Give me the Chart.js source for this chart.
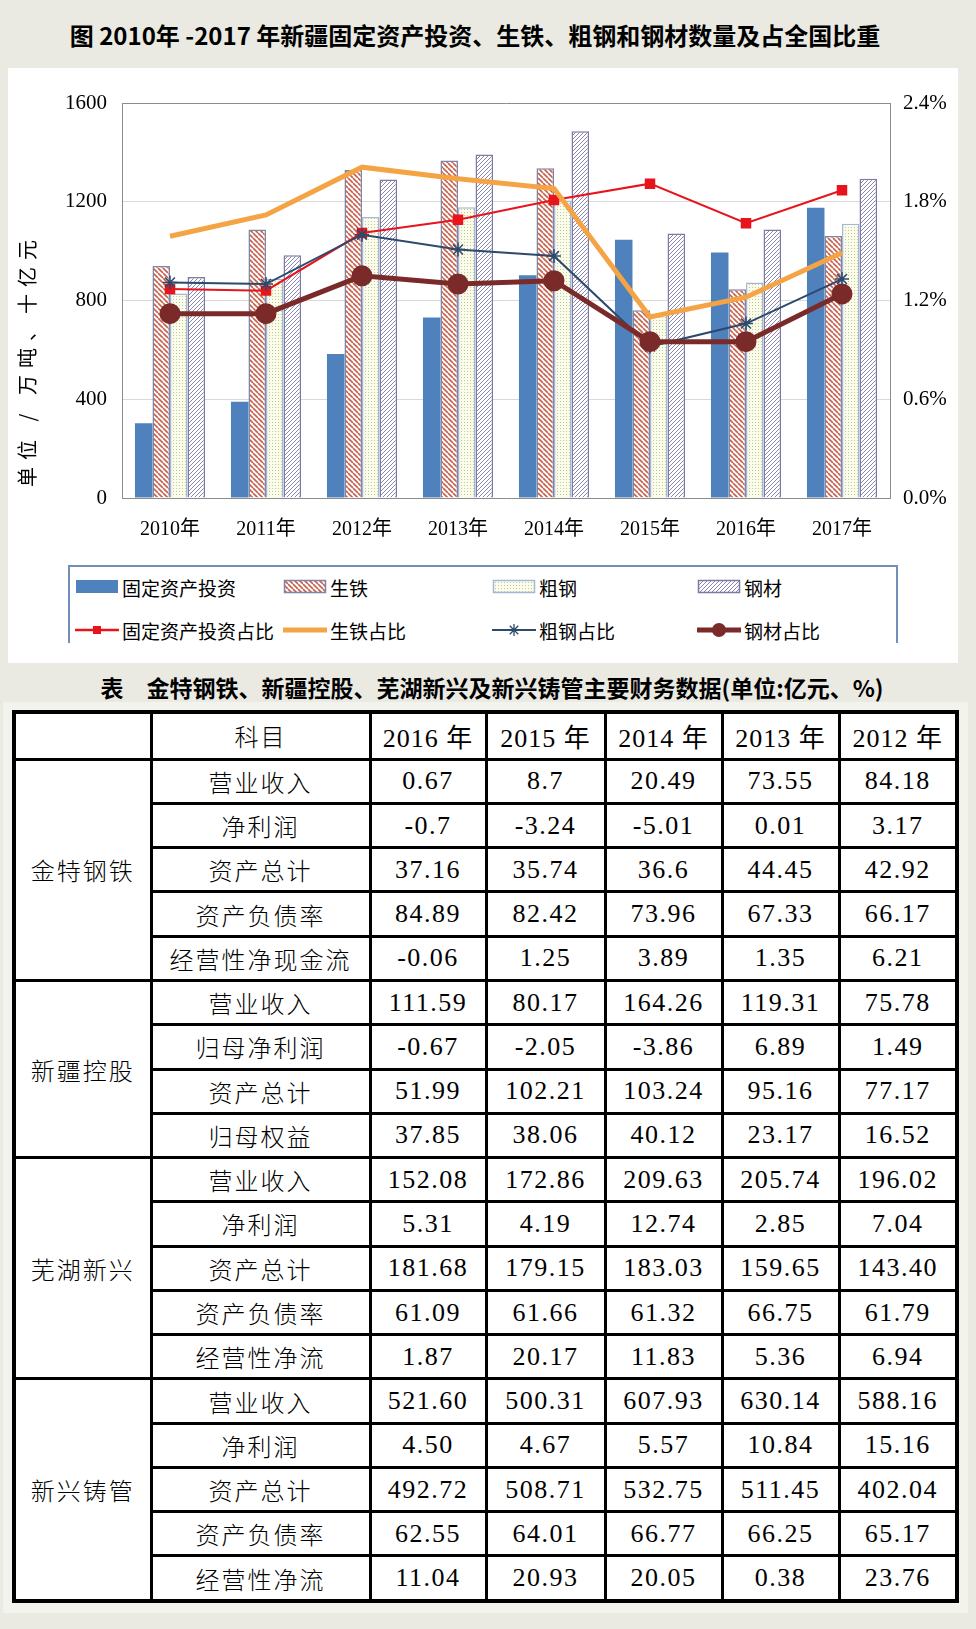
<!DOCTYPE html>
<html><head><meta charset="utf-8">
<script src="https://cdn.jsdelivr.net/npm/chart.js@4.4.0/dist/chart.umd.min.js"></script>
<style>
body{margin:0;width:976px;height:1629px;background:#EAEAE2;position:relative;overflow:hidden;font-family:'Noto Sans CJK SC',sans-serif;color:#000;}
#title{position:absolute;left:0;top:15px;width:950px;text-align:center;font-size:24px;font-weight:bold;line-height:40px;}
#panel{position:absolute;left:8px;top:68px;width:950px;height:595px;background:#fff;}
#chartBox{position:absolute;left:8px;top:68px;width:950px;height:492px;}
#ytitle{position:absolute;left:-123px;top:347px;width:300px;height:26px;line-height:26px;text-align:center;font-size:20px;letter-spacing:7px;transform:rotate(-90deg);white-space:pre;}
#legend{position:absolute;left:68px;top:565px;width:826px;height:76px;border:2px solid #7090B8;border-bottom:none;overflow:hidden;background:#fff;}
.li{position:absolute;height:24px;display:flex;align-items:center;white-space:nowrap;font-size:19px;}
.li canvas{margin-right:3px;}
#ttitle{position:absolute;left:0;top:668px;width:984px;text-align:center;font-size:23px;font-weight:bold;line-height:38px;white-space:pre;}
#tpanel{position:absolute;left:3px;top:702px;width:965px;height:911px;background:#F3F3EE;}
table{position:absolute;left:12px;top:710px;width:943px;height:893px;border-collapse:collapse;table-layout:fixed;background:#fff;border:4px solid #000;}
td{border:3px solid #000;text-align:center;vertical-align:middle;padding:0;font-size:24px;letter-spacing:2px;font-weight:300;}
td.n{font-family:'Liberation Serif',serif;font-size:26px;letter-spacing:1.5px;font-weight:400;}
td.h{font-family:'Liberation Serif','Noto Sans CJK SC',serif;font-size:26px;letter-spacing:1px;font-weight:400;}
</style></head>
<body>
<div id="title">图 2010年 -2017 年新疆固定资产投资、生铁、粗钢和钢材数量及占全国比重</div>
<div id="panel"></div>
<div id="chartBox"><canvas id="c"></canvas></div>
<div id="ytitle">单位 / 万吨、十亿元</div>
<div id="legend"></div>
<div id="ttitle">表　金特钢铁、新疆控股、芜湖新兴及新兴铸管主要财务数据(单位:亿元、%)</div>
<div id="tpanel"></div>
<table id="tbl"></table>
<script>
// ---------- chart data ----------
const categories = ['2010年','2011年','2012年','2013年','2014年','2015年','2016年','2017年'];
const fixedInvest   = [303, 390, 583, 731, 902, 1046, 994, 1176];
const pigIron       = [940, 1088, 1329, 1367, 1336, 761, 846, 1061];
const crudeSteel    = [828, 888, 1138, 1178, 1205, 745, 873, 1111];
const steelProducts = [895, 983, 1290, 1391, 1486, 1071, 1088, 1293];
const fixedInvestShare   = [1.27, 1.26, 1.61, 1.69, 1.81, 1.91, 1.67, 1.87];
const pigIronShare       = [1.59, 1.72, 2.01, 1.94, 1.88, 1.10, 1.22, 1.49];
const crudeSteelShare    = [1.31, 1.30, 1.60, 1.51, 1.47, 0.92, 1.06, 1.33];
const steelProductsShare = [1.12, 1.12, 1.35, 1.30, 1.32, 0.95, 0.95, 1.24];
const leftTicks = [0, 400, 800, 1200, 1600];
const rightTicks = ['0.0%','0.6%','1.2%','1.8%','2.4%'];
const seriesNames = ['固定资产投资','生铁','粗钢','钢材','固定资产投资占比','生铁占比','粗钢占比','钢材占比'];

// ---------- table data ----------
const tableYears = ['2016 年','2015 年','2014 年','2013 年','2012 年'];
const companies = ['金特钢铁','新疆控股','芜湖新兴','新兴铸管'];
const jtItems = ['营业收入','净利润','资产总计','资产负债率','经营性净现金流'];
const jtValues = [['0.67','8.7','20.49','73.55','84.18'],['-0.7','-3.24','-5.01','0.01','3.17'],['37.16','35.74','36.6','44.45','42.92'],['84.89','82.42','73.96','67.33','66.17'],['-0.06','1.25','3.89','1.35','6.21']];
const xjItems = ['营业收入','归母净利润','资产总计','归母权益'];
const xjValues = [['111.59','80.17','164.26','119.31','75.78'],['-0.67','-2.05','-3.86','6.89','1.49'],['51.99','102.21','103.24','95.16','77.17'],['37.85','38.06','40.12','23.17','16.52']];
const whItems = ['营业收入','净利润','资产总计','资产负债率','经营性净流'];
const whValues = [['152.08','172.86','209.63','205.74','196.02'],['5.31','4.19','12.74','2.85','7.04'],['181.68','179.15','183.03','159.65','143.40'],['61.09','61.66','61.32','66.75','61.79'],['1.87','20.17','11.83','5.36','6.94']];
const xxItems = ['营业收入','净利润','资产总计','资产负债率','经营性净流'];
const xxValues = [['521.60','500.31','607.93','630.14','588.16'],['4.50','4.67','5.57','10.84','15.16'],['492.72','508.71','532.75','511.45','402.04'],['62.55','64.01','66.77','66.25','65.17'],['11.04','20.93','20.05','0.38','23.76']];

// ---------- patterns ----------
function hatch(bg, fg, size, dir, lw){
  const c=document.createElement('canvas'); c.width=c.height=size;
  const x=c.getContext('2d'); x.fillStyle=bg; x.fillRect(0,0,size,size);
  x.strokeStyle=fg; x.lineWidth=lw; x.beginPath();
  for(const k of [-1,0,1]){
    if(dir==='back'){x.moveTo(k*size,0);x.lineTo(k*size+size,size);}
    else {x.moveTo(k*size,size);x.lineTo(k*size+size,0);}
  }
  x.stroke();
  return x.createPattern(c,'repeat');
}
function dots(bg, fg){
  const c=document.createElement('canvas'); c.width=c.height=3;
  const x=c.getContext('2d'); x.fillStyle=bg; x.fillRect(0,0,3,3);
  x.fillStyle=fg; x.fillRect(0,0,1,1);
  return x.createPattern(c,'repeat');
}
const colBlue='#4F81BD';
const patIron=hatch('#ffffff','#C8604C',5,'back',1.6);
const patCrude=dots('#FCFCEC','#BCCB98');
const patSteel=hatch('#ffffff','#8A86B2',4,'fwd',1);
const bIron='#7C86A6', bCrude='#A2B8D4', bSteel='#7E7AA0';
const cRed='#E8141C', cOrange='#F5A445', cSlate='#2C4A6C', cDark='#7B2A2A';

const tickFont={family:"'Liberation Serif','Noto Sans CJK SC',serif", size:21};
new Chart(document.getElementById('c'),{
  data:{labels:categories,datasets:[
    {type:'bar',label:seriesNames[0],data:fixedInvest,backgroundColor:colBlue,borderWidth:0,yAxisID:'y',order:10},
    {type:'bar',label:seriesNames[1],data:pigIron,backgroundColor:patIron,borderColor:bIron,borderWidth:1.5,yAxisID:'y',order:10},
    {type:'bar',label:seriesNames[2],data:crudeSteel,backgroundColor:patCrude,borderColor:bCrude,borderWidth:1.5,yAxisID:'y',order:10},
    {type:'bar',label:seriesNames[3],data:steelProducts,backgroundColor:patSteel,borderColor:bSteel,borderWidth:1.5,yAxisID:'y',order:10},
    {type:'line',label:seriesNames[4],data:fixedInvestShare,borderColor:cRed,backgroundColor:cRed,borderWidth:2,pointStyle:'rect',pointRadius:6,yAxisID:'y1',order:4},
    {type:'line',label:seriesNames[5],data:pigIronShare,borderColor:cOrange,backgroundColor:cOrange,borderWidth:5,pointRadius:0,yAxisID:'y1',order:3},
    {type:'line',label:seriesNames[6],data:crudeSteelShare,borderColor:cSlate,backgroundColor:cSlate,borderWidth:2,pointStyle:'star',pointRadius:7,pointBorderWidth:1.5,yAxisID:'y1',order:2},
    {type:'line',label:seriesNames[7],data:steelProductsShare,borderColor:cDark,backgroundColor:cDark,borderWidth:5,pointStyle:'circle',pointRadius:8,yAxisID:'y1',order:1}
  ]},
  options:{
    responsive:true,maintainAspectRatio:false,animation:false,
    layout:{padding:{top:35,left:0,right:0,bottom:0}},
    plugins:{legend:{display:false},tooltip:{enabled:false}},
    datasets:{bar:{categoryPercentage:0.73,barPercentage:1.0},line:{tension:0}},
    scales:{
      x:{grid:{display:false,drawTicks:false},border:{display:true,color:'#8C8C8C',width:1},
         ticks:{font:{...tickFont,size:20},color:'#000',padding:20},afterFit(s){s.height=62;}},
      y:{position:'left',min:leftTicks[0],max:leftTicks[leftTicks.length-1],
         afterBuildTicks(s){s.ticks=leftTicks.map(v=>({value:v}));},
         ticks:{font:tickFont,color:'#000',padding:15,callback:(v)=>String(v)},
         grid:{drawTicks:false,color:c=>c.tick&&c.tick.value===1600?'#8C8C8C':'#D9D9D9',lineWidth:1},
         border:{display:true,color:'#8C8C8C'},afterFit(s){s.width=114;}},
      y1:{position:'right',min:0,max:2.4,
         afterBuildTicks(s){s.ticks=rightTicks.map(t=>({value:parseFloat(t)}));},
         ticks:{font:tickFont,color:'#000',padding:13,callback:(v,i)=>rightTicks[i]},
         grid:{display:false,drawTicks:false},border:{display:true,color:'#8C8C8C'},afterFit(s){s.width=68;}}
    }
  }
});

// ---------- legend ----------
const legend=document.getElementById('legend');
const legX=[75,283,492,697], legY=[587,630];
function swatch(i){
  const c=document.createElement('canvas'); c.width=44; c.height=16;
  const x=c.getContext('2d');
  if(i<4){
    const fills=[colBlue,patIron,patCrude,patSteel], bords=[null,bIron,bCrude,bSteel];
    x.fillStyle=fills[i]; x.fillRect(1,1,42,13);
    if(bords[i]){x.strokeStyle=bords[i];x.lineWidth=1.5;x.strokeRect(1.5,1.5,41,12);}
  } else {
    const cols=[cRed,cOrange,cSlate,cDark], w=[2.5,5,2,5];
    x.strokeStyle=cols[i-4]; x.lineWidth=w[i-4];
    x.beginPath(); x.moveTo(0,8); x.lineTo(44,8); x.stroke();
    x.fillStyle=cols[i-4];
    if(i===4){x.fillRect(18,4,8,8);}
    if(i===6){x.lineWidth=1.3;x.beginPath();
      for(const a of [0,45,90,135]){const r=a*Math.PI/180;x.moveTo(22-6*Math.cos(r),8-6*Math.sin(r));x.lineTo(22+6*Math.cos(r),8+6*Math.sin(r));}
      x.stroke();}
    if(i===7){x.beginPath();x.arc(22,8,7,0,Math.PI*2);x.fill();}
  }
  return c;
}
seriesNames.forEach((n,i)=>{
  const d=document.createElement('div'); d.className='li';
  d.style.left=(legX[i%4]-68-2)+'px'; d.style.top=(legY[Math.floor(i/4)]-565-2-12)+'px';
  d.appendChild(swatch(i));
  const s=document.createElement('span'); s.textContent=n; d.appendChild(s);
  legend.appendChild(d);
});

// ---------- table ----------
const tbl=document.getElementById('tbl');
const widths=[137,219,116,119,117,117,118];
let html='<colgroup>'+widths.map(w=>'<col style="width:'+w+'px">').join('')+'</colgroup>';
html+='<tr><td></td><td>科目</td>'+tableYears.map(y=>'<td class="h">'+y+'</td>').join('')+'</tr>';
const groups=[[jtItems,jtValues],[xjItems,xjValues],[whItems,whValues],[xxItems,xxValues]];
groups.forEach((g,gi)=>{
  g[0].forEach((item,ri)=>{
    html+='<tr>';
    if(ri===0) html+='<td rowspan="'+g[0].length+'">'+companies[gi]+'</td>';
    html+='<td>'+item+'</td>'+g[1][ri].map(v=>'<td class="n">'+v+'</td>').join('')+'</tr>';
  });
});
tbl.innerHTML=html;
</script>
</body></html>
